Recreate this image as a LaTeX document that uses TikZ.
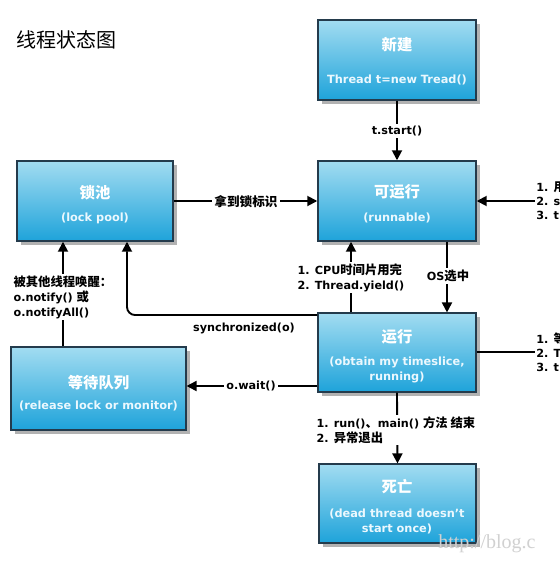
\documentclass[tikz,border=0pt]{standalone}
\usepackage{fontspec}
\setmainfont{DejaVu Sans}
\newfontfamily\cjk{Noto Sans CJK SC}
\newfontfamily\cjkl{Noto Sans CJK SC}[Scale=1.1]
\newfontfamily\wmfont{Liberation Serif}
\newcommand\zhs[1]{{\cjkl\bfseries #1}}
\usetikzlibrary{arrows.meta,shadows}
\definecolor{boxtop}{HTML}{A2DCF1}
\definecolor{boxbot}{HTML}{1EA3DA}
\definecolor{boxline}{HTML}{243B4C}
\tikzset{
  state/.style={rectangle, draw=boxline, line width=1.1pt, top color=boxtop, bottom color=boxbot,
    inner sep=0pt, drop shadow={shadow xshift=3pt, shadow yshift=-3pt, fill=black!30, opacity=1}},
  boxtitle/.style={text=white, font=\cjk\bfseries\fontsize{11.5}{13}\selectfont, inner sep=0pt},
  boxsub/.style={text=white!92!cyan, font=\bfseries\fontsize{8.5}{11.2}\selectfont, inner sep=0pt, align=center},
  lbl/.style={font=\bfseries\fontsize{8.4}{11.2}\selectfont, inner sep=1.5pt, text=black},
  lblw/.style={lbl, fill=white},
  arr/.style={line width=1.4pt, -{Triangle[length=7.5pt,width=7.5pt]}},
  ln/.style={line width=1.4pt},
}
\begin{document}
\begin{tikzpicture}[x=0.75pt,y=-0.75pt]
\clip (0,0) rectangle (560,561);
\fill[white] (0,0) rectangle (560,561);

% title
\node[anchor=west, inner sep=0pt, font=\cjk\fontsize{15}{17}\selectfont] (title) at (16,40) {线程状态图};

% boxes
\node[state, minimum width=118.5pt, minimum height=60pt] (new) at (397,60) {};
\node[state, minimum width=118.5pt, minimum height=60pt] (runnable) at (397,201) {};
\node[state, minimum width=117pt, minimum height=60pt] (lockpool) at (95,201) {};
\node[state, minimum width=118.5pt, minimum height=59pt] (running) at (397,352.5) {};
\node[state, minimum width=131pt, minimum height=62pt] (waitq) at (98.5,388.5) {};
\node[state, minimum width=118pt, minimum height=59pt] (dead) at (397.5,503.5) {};

% box texts
\node[boxtitle] (newT) at (397,45) {新建};
\node[boxsub] (newS) at (397,80) {Thread t=new Tread()};
\node[boxtitle] (runnableT) at (397,192) {可运行};
\node[boxsub] (runnableS) at (397,218) {(runnable)};
\node[boxtitle] (lockpoolT) at (95,193) {锁池};
\node[boxsub] (lockpoolS) at (95,218) {(lock pool)};
\node[boxtitle] (runningT) at (397,337) {运行};
\node[boxsub] (runningS) at (397,370) {(obtain my timeslice,\\running)};
\node[boxtitle] (waitqT) at (98.5,383) {等待队列};
\node[boxsub] (waitqS) at (98.5,406) {(release lock or monitor)};
\node[boxtitle] (deadT) at (397,487) {死亡};
\node[boxsub] (deadS) at (397,521.5) {(dead thread doesn't\\start once)};

% helper coordinates
\coordinate (xcpu) at (351,0);
\coordinate (xos) at (447,0);
\coordinate (xsync) at (127,0);
\coordinate (xnotify) at (63,0);
\coordinate (ysync) at (0,315);
\coordinate (ywait) at (0,386);
\coordinate (yrun) at (0,352);
\coordinate (rin) at (535,201);
\coordinate (rout) at (535,352);
\coordinate (corner) at (127,315);

% connectors
\draw[arr] (new.south) -- (runnable.north);
\node[lblw] (tstart) at (397,131) {t.start()};

\draw[arr] (lockpool.east) -- (runnable.west);
\node[lblw, font=\cjkl\bfseries\fontsize{8.6}{11}\selectfont] (getlock) at (246,202) {拿到锁标识};

\draw[arr] (rin) -- (runnable.east);

\draw[arr] (running.north -| xcpu) -- (runnable.south -| xcpu);
\node[lblw, anchor=west, align=left, inner sep=1pt] (cpu) at (296,277.5) {1. CPU\zhs{时间片用完}\\2. Thread.yield()};

\draw[arr] (runnable.south -| xos) -- (running.north -| xos);
\node[lblw] (os) at (448,276) {OS\zhs{选中}};

\draw[arr, rounded corners=6pt] (running.west |- ysync) -- (corner) -- (lockpool.south -| xsync);
\node[lbl] (sync) at (244,328) {synchronized(o)};

\draw[arr] (running.west |- ywait) -- (waitq.east |- ywait);
\node[lblw] (wait) at (251,386) {o.wait()};

\draw[arr] (waitq.north -| xnotify) -- (lockpool.south -| xnotify);
\node[lblw, anchor=west, align=left, inner sep=1pt] (notify) at (12,297) {\zhs{被其他线程唤醒：}\\o.notify() \zhs{或}\\o.notifyAll()};

\draw[ln] (running.east |- yrun) -- (rout);

\draw[arr] (running.south) -- (dead.north);
\node[lblw, anchor=west, align=left, inner sep=1pt] (runend) at (315,430) {1. run()\zhs{、}main() \zhs{方法 结束}\\2. \zhs{异常退出}};

% right-side texts, cut off by the picture's edge as in the reference
\node[lbl, anchor=west, inner sep=0pt] (r1) at (536,187) {1. \zhs{用}};
\node[lbl, anchor=west, inner sep=0pt] (r2) at (536,201) {2. s};
\node[lbl, anchor=west, inner sep=0pt] (r3) at (536,215) {3. t};
\node[lbl, anchor=west, inner sep=0pt] (s1) at (536,339) {1. \zhs{等}};
\node[lbl, anchor=west, inner sep=0pt] (s2) at (536,353) {2. T};
\node[lbl, anchor=west, inner sep=0pt] (s3) at (536,367) {3. t};

% watermark
\node[anchor=west, inner sep=0pt, text=black!18, font=\wmfont\fontsize{15}{17}\selectfont] (wm) at (438,544) {http://blog.c};
\end{tikzpicture}
\end{document}
